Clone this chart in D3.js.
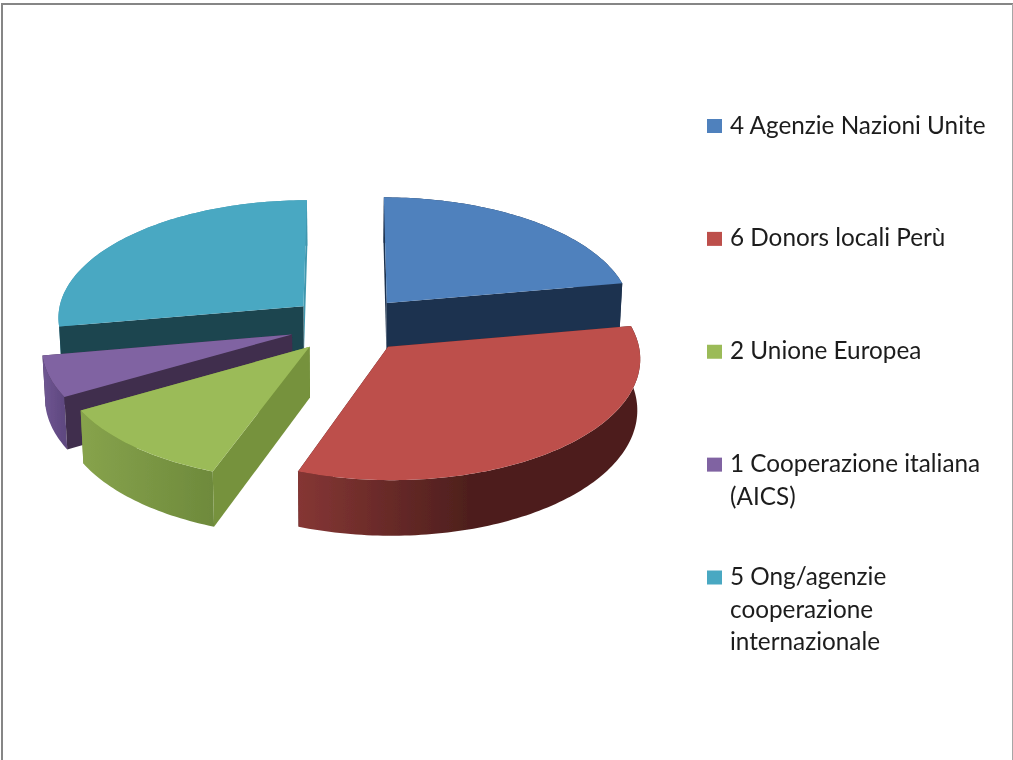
<!DOCTYPE html>
<html>
<head>
<meta charset="utf-8">
<script src="https://cdn.jsdelivr.net/npm/d3@7"></script>
<style>
  html, body { margin: 0; padding: 0; background: #fff; }
  svg { display: block; }
  text { font-family: Lato, "Open Sans", sans-serif; font-size: 24.3px; fill: #1c1c1c; }
</style>
</head>
<body>
<div id="chart"></div>
<script>
"use strict";
//slices go clockwise from twelve o'clock, same order as the legend
var labels = [
  ["4 Agenzie Nazioni Unite"],
  ["6 Donors locali Perù"],
  ["2 Unione Europea"],
  ["1 Cooperazione italiana", "(AICS)"],
  ["5 Ong/agenzie", "cooperazione", "internazionale"]
];
var values = [4, 6, 2, 1, 5];

var topColors = ["#4f81bd", "#bd4f4c", "#9bbb59", "#8064a2", "#4aa8c2"];
var wallColors = ["#1f334f", "#4e1f1d", "#76923c", "#402f4d", "#1e444f"];
//the closing wall only shows as a sliver, teal keeps it light
var endWallColors = ["#1f334f", "#4e1f1d", "#76923c", "#402f4d", "#4197ae"];
var rimFrom = ["#1f334f", "#853634", "#87a34c", "#6f5692", "#4197ae"];
var rimTo = ["#1f334f", "#4e1f1d", "#6e8a3c", "#5f4880", "#4197ae"];

var w = 1013,
  h = 760;

//pie geometry, fitted on the picture
var cx = 348.8,
  cy = 324.5,
  rx = 247,
  ry = 118,
  persp = 0.085,
  explode = 0.243,
  depth = 50,
  bottomShrink = 0.99;

var svg = d3
  .select("#chart")
  .append("svg")
  .attr("width", w)
  .attr("height", h);

var defs = svg.append("defs");

//the reference is a slightly soft screenshot
defs.append("filter")
  .attr("id", "soft")
  .append("feGaussianBlur")
  .attr("stdDeviation", 0.5);

//frame of the pasted chart
svg.append("path")
  .attr("d", "M2,760V4H1013")
  .attr("fill", "none")
  .attr("stroke", "#868686")
  .attr("stroke-width", 2);
svg.append("line")
  .attr("x1", 1012.5).attr("x2", 1012.5)
  .attr("y1", 4).attr("y2", 760)
  .attr("stroke", "#a6a6a6");

var arcs = d3.pie().sort(null)(values);

//world point on the top face to screen
function project(u, v, lower) {
  var s = 1 / (1 - persp * v);
  var x = cx + rx * u * s,
    y = cy + ry * v * s;
  if (lower) {
    x = cx + (x - cx) * bottomShrink;
    y += depth * s;
  }
  return [x, y];
}

function slicePoints(d, a, lower) {
  var mid = (d.startAngle + d.endAngle) / 2;
  var ou = explode * Math.sin(mid),
    ov = -explode * Math.cos(mid);
  if (a === null) return project(ou, ov, lower);
  return project(ou + Math.sin(a), ov - Math.cos(a), lower);
}

function arcAngles(d) {
  var n = Math.ceil((d.endAngle - d.startAngle) / 0.02);
  return d3.range(n + 1).map(function(i) {
    return d.startAngle + ((d.endAngle - d.startAngle) * i) / n;
  });
}

var line = d3.line();

function wallPath(d, a) {
  return (
    line([
      slicePoints(d, null, false),
      slicePoints(d, a, false),
      slicePoints(d, a, true),
      slicePoints(d, null, true)
    ]) + "Z"
  );
}

function rimPath(d) {
  var angles = arcAngles(d);
  var upper = angles.map(function(a) { return slicePoints(d, a, false); });
  var lower = angles.map(function(a) { return slicePoints(d, a, true); }).reverse();
  return line(upper.concat(lower)) + "Z";
}

function topPath(d) {
  var pts = arcAngles(d).map(function(a) { return slicePoints(d, a, false); });
  pts.unshift(slicePoints(d, null, false));
  return line(pts) + "Z";
}

arcs.forEach(function(d, i) {
  var xs = arcAngles(d).map(function(a) { return slicePoints(d, a, false)[0]; });
  var g = defs.append("linearGradient")
    .attr("id", "rim" + i)
    .attr("gradientUnits", "userSpaceOnUse")
    .attr("x1", d3.min(xs)).attr("x2", d3.max(xs))
    .attr("y1", 0).attr("y2", 0);
  g.append("stop").attr("offset", 0).attr("stop-color", rimFrom[i]);
  g.append("stop").attr("offset", i === 1 ? 0.5 : 1).attr("stop-color", rimTo[i]);
});

//painter order, back to front: teal, blue, purple, green, red
var order = [4, 0, 3, 2, 1];
var pie = svg.append("g").attr("filter", "url(#soft)");

order.forEach(function(i) {
  var d = arcs[i];
  var g = pie.append("g");
  g.append("path").attr("d", wallPath(d, d.endAngle)).attr("fill", endWallColors[i]);
  g.append("path").attr("d", rimPath(d)).attr("fill", "url(#rim" + i + ")");
  g.append("path").attr("d", wallPath(d, d.startAngle)).attr("fill", wallColors[i]);
  g.append("path").attr("d", topPath(d)).attr("fill", topColors[i]);
});

//legend
var legendY = d3.scalePoint()
  .domain(d3.range(labels.length))
  .range([133.5, 585]);

var legend = svg.append("g").attr("filter", "url(#soft)");

labels.forEach(function(lines, i) {
  legend.append("rect")
    .attr("x", 707)
    .attr("y", legendY(i) - 14.5)
    .attr("width", 15)
    .attr("height", 14)
    .attr("fill", topColors[i]);
  lines.forEach(function(t, j) {
    legend.append("text")
      .attr("x", 730)
      .attr("y", legendY(i) + j * 32.5)
      .text(t);
  });
});
</script>
</body>
</html>
